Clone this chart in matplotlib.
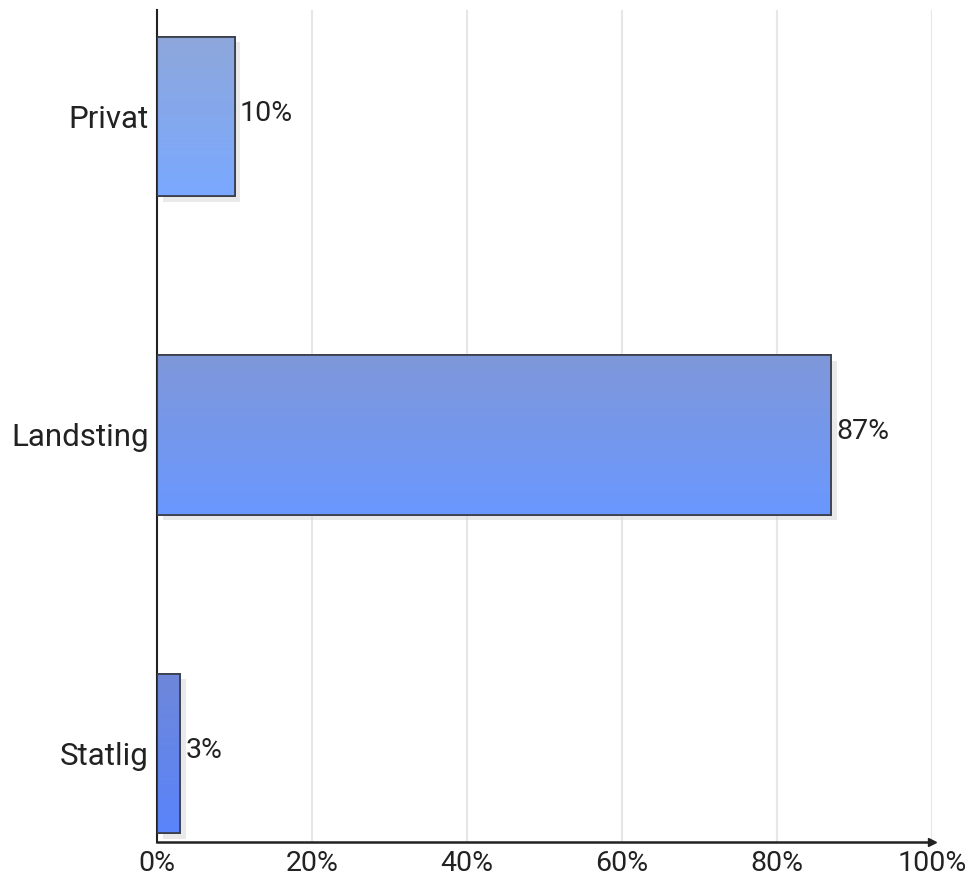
import matplotlib
matplotlib.use("Agg")
import matplotlib.pyplot as plt
import matplotlib.patheffects as pe
import numpy as np
from matplotlib.colors import LinearSegmentedColormap

categories = ["Privat", "Landsting", "Statlig"]
values = [10, 87, 3]
xticks = [0, 20, 40, 60, 80, 100]
xticklabels = ["0%", "20%", "40%", "60%", "80%", "100%"]

grad_top = ["#8ea7db", "#7f97d9", "#6e87d8"]
grad_bot = ["#7aa9ff", "#6a98ff", "#5a84fb"]

plt.rcParams['font.family'] = ['Roboto', 'DejaVu Sans']

fig = plt.figure(figsize=(9.67, 8.81), dpi=100)
ax = fig.add_axes([0.1624, 0.0443, 0.8014, 0.9443])

ypos = np.arange(len(categories))
h = 0.5
for i, (y, v) in enumerate(zip(ypos, values)):
    bars = ax.barh(y, v, height=h, color=grad_bot[i], edgecolor="#3c3f4c",
                   linewidth=1.3, zorder=2,
                   path_effects=[pe.SimplePatchShadow(offset=(4, -4), shadow_rgbFace="#d0d0d0", alpha=0.45),
                                 pe.Normal()])
    patch = bars[0]
    cmap = LinearSegmentedColormap.from_list("g", [grad_top[i], grad_bot[i]])
    grad = np.linspace(0, 1, 256).reshape(-1, 1)
    im = ax.imshow(grad, cmap=cmap, aspect="auto",
                   extent=[0, v, y + h / 2, y - h / 2], zorder=2.5,
                   interpolation="bilinear")
    im.set_clip_path(patch)
    ax.barh(y, v, height=h, color="none", edgecolor="#3c3f4c", linewidth=1.3, zorder=3)
    ax.text(v + 0.7, y - 0.01, f"{v}%", va="center", ha="left", fontsize=20.5, color="#222222")

ax.set_xlim(0, 100)
ax.set_ylim(2 + 0.278, -0.334)
ax.set_aspect("auto")
ax.set_yticks(ypos)
ax.set_yticklabels(categories, fontsize=22.5, color="#222222")
ax.set_xticks(xticks)
ax.set_xticklabels(xticklabels, fontsize=20.5, color="#222222")
ax.tick_params(axis="both", length=0)
ax.tick_params(axis="y", pad=6)
ax.tick_params(axis="x", pad=6)

ax.grid(axis="x", color="#e6e6e6", linewidth=1.5, zorder=0)
ax.set_axisbelow(True)
for s in ["top", "right"]:
    ax.spines[s].set_visible(False)
ax.spines["left"].set_color("#222222")
ax.spines["left"].set_linewidth(1.5)
ax.spines["bottom"].set_color("#222222")
ax.spines["bottom"].set_linewidth(1.8)
ax.plot([1], [0], marker=">", markersize=6, color="#222222",
        transform=ax.transAxes, clip_on=False, zorder=5)

fig.savefig("out.png", dpi=100, facecolor="white")
